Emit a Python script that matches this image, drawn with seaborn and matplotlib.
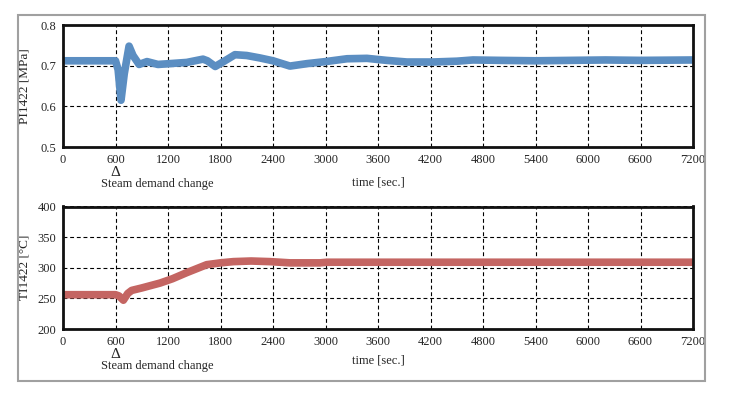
import numpy as np
import pandas as pd
import matplotlib
matplotlib.use("Agg")
import matplotlib.pyplot as plt
import seaborn as sns
from matplotlib.patches import Rectangle

# PRESSURE PI1422
p_time = [0, 300, 600, 630, 663, 700, 755, 800, 870, 960, 1085, 1220, 1415,
          1600, 1650, 1740, 1850, 1965, 2100, 2250, 2400, 2594, 2789, 3000,
          3246, 3474, 3700, 3931, 4229, 4500, 4686, 5000, 5400, 5800, 6200,
          6600, 7200]
p_val = [0.712, 0.712, 0.712, 0.690, 0.615, 0.680, 0.748, 0.725, 0.703,
         0.710, 0.703, 0.705, 0.708, 0.716, 0.712, 0.698, 0.712, 0.727,
         0.725, 0.719, 0.712, 0.699, 0.705, 0.710, 0.717, 0.718, 0.713,
         0.709, 0.709, 0.711, 0.714, 0.713, 0.712, 0.713, 0.714, 0.713, 0.714]

# TEMPERATURE TI1422
t_time = [0, 300, 600, 640, 690, 740, 785, 900, 1109, 1250, 1414, 1642,
          1800, 1947, 2150, 2366, 2594, 2937, 3017, 4000, 5000, 6000, 7200]
t_val = [256, 256, 256, 254, 247, 258, 263, 267, 275, 282, 292, 305,
         308, 310, 311, 310, 308, 308, 309, 309, 309, 309, 309]

x_ticks = list(range(0, 7201, 600))

pres = pd.DataFrame({"time": p_time, "value": p_val})
temp = pd.DataFrame({"time": t_time, "value": t_val})

sns.set_style("white")
plt.rcParams["font.family"] = ["Liberation Serif", "DejaVu Serif"]
plt.rcParams["font.size"] = 9

fig = plt.figure(figsize=(7.31, 3.96), dpi=100)

# outer gray frame
fig.patches.append(Rectangle((18/731, 1-381/396), (705-18)/731, (381-14.5)/396,
                             transform=fig.transFigure, fill=False,
                             edgecolor="#a0a0a0", lw=1.5))

ax1 = fig.add_axes([63/731, 1-147/396, 630/731, 122/396])
ax2 = fig.add_axes([63/731, 1-329/396, 630/731, 122.5/396])

sns.lineplot(data=pres, x="time", y="value", ax=ax1, color="#5b8ec2",
             lw=5.5, solid_capstyle="round")
sns.lineplot(data=temp, x="time", y="value", ax=ax2, color="#c46562",
             lw=5.5, solid_capstyle="round")

ax1.set_ylim(0.5, 0.8)
ax1.set_yticks([0.5, 0.6, 0.7, 0.8])
ax1.set_ylabel("PI1422 [MPa]", fontsize=9.5)
ax2.set_ylim(200, 400)
ax2.set_yticks([200, 250, 300, 350, 400])
ax2.set_ylabel("TI1422 [\u00b0C]", fontsize=9.5)

for ax in [ax1, ax2]:
    ax.set_xlim(0, 7200)
    ax.set_xticks(x_ticks)
    ax.set_xlabel("time [sec.]", labelpad=4)
    ax.grid(True, color="black", lw=0.8, linestyle=(0, (3.5, 2.5)))
    ax.set_axisbelow(True)
    ax.tick_params(length=0, pad=5, labelsize=9)
    for s in ax.spines.values():
        s.set_visible(True)
        s.set_color("#111111")
        s.set_linewidth(2)
    ax.annotate("\u0394", xy=(600, 0), xycoords=("data", "axes fraction"),
                xytext=(0, -18), textcoords="offset points",
                ha="center", va="center", fontsize=11)
    ax.annotate("Steam demand change", xy=(600, 0),
                xycoords=("data", "axes fraction"),
                xytext=(-10.5, -27), textcoords="offset points",
                ha="left", va="center", fontsize=9)

ax1.yaxis.set_label_coords(-0.052, 0.5)
ax2.yaxis.set_label_coords(-0.052, 0.5)
ax1.xaxis.set_label_coords(0.5, -0.24)
ax2.xaxis.set_label_coords(0.5, -0.21)

fig.savefig("out.png", dpi=100)
